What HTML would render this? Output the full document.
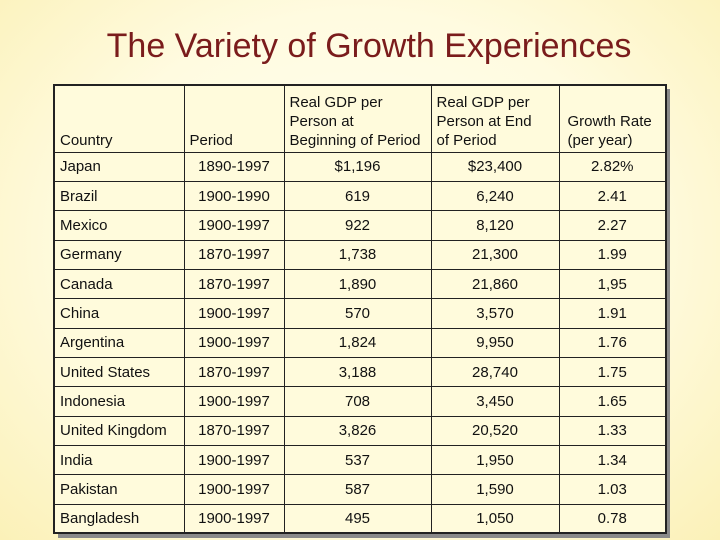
<!DOCTYPE html>
<html><head><meta charset="utf-8"><style>
html,body{margin:0;padding:0}
body{width:720px;height:540px;overflow:hidden;position:relative;background:radial-gradient(ellipse at 50% 45%,#fffff2 0%,#fffbe0 55%,#fbf1b8 100%);font-family:"Liberation Sans",sans-serif}
#title{position:absolute;left:0;width:738px;top:26px;text-align:center;font-size:34px;color:#7a1c1c;line-height:40px}
#shadow{position:absolute;left:58px;top:89px;width:612px;height:449px;background:#8a8a8a}
table{position:absolute;left:53px;top:84px;border-collapse:collapse;background:#fffbdc;border:2px solid #222;font-size:15px;color:#111;table-layout:fixed;width:612px}
td{border:1px solid #222;padding:0 5px;text-align:center;white-space:nowrap;line-height:17px}
tr{height:29.35px}
td:first-child{text-align:left}
tr.h{height:67px}
tr.h td{vertical-align:bottom;text-align:left;padding-bottom:2px;line-height:19px}
</style></head><body>
<div id="title">The Variety of Growth Experiences</div>
<div id="shadow"></div>
<table>
<colgroup><col style="width:130px"><col style="width:100px"><col style="width:147px"><col style="width:128px"><col style="width:107px"></colgroup>
<tr class="h"><td>Country</td><td>Period</td><td>Real GDP per<br>Person at<br>Beginning of Period</td><td>Real GDP per<br>Person at End<br>of Period</td><td style="padding-left:8px">Growth Rate<br>(per year)</td></tr>
<tr><td>Japan</td><td>1890-1997</td><td>$1,196</td><td>$23,400</td><td>2.82%</td></tr>
<tr><td>Brazil</td><td>1900-1990</td><td>619</td><td>6,240</td><td>2.41</td></tr>
<tr><td>Mexico</td><td>1900-1997</td><td>922</td><td>8,120</td><td>2.27</td></tr>
<tr><td>Germany</td><td>1870-1997</td><td>1,738</td><td>21,300</td><td>1.99</td></tr>
<tr><td>Canada</td><td>1870-1997</td><td>1,890</td><td>21,860</td><td>1,95</td></tr>
<tr><td>China</td><td>1900-1997</td><td>570</td><td>3,570</td><td>1.91</td></tr>
<tr><td>Argentina</td><td>1900-1997</td><td>1,824</td><td>9,950</td><td>1.76</td></tr>
<tr><td>United States</td><td>1870-1997</td><td>3,188</td><td>28,740</td><td>1.75</td></tr>
<tr><td>Indonesia</td><td>1900-1997</td><td>708</td><td>3,450</td><td>1.65</td></tr>
<tr><td>United Kingdom</td><td>1870-1997</td><td>3,826</td><td>20,520</td><td>1.33</td></tr>
<tr><td>India</td><td>1900-1997</td><td>537</td><td>1,950</td><td>1.34</td></tr>
<tr><td>Pakistan</td><td>1900-1997</td><td>587</td><td>1,590</td><td>1.03</td></tr>
<tr><td>Bangladesh</td><td>1900-1997</td><td>495</td><td>1,050</td><td>0.78</td></tr>
</table>
</body></html>
